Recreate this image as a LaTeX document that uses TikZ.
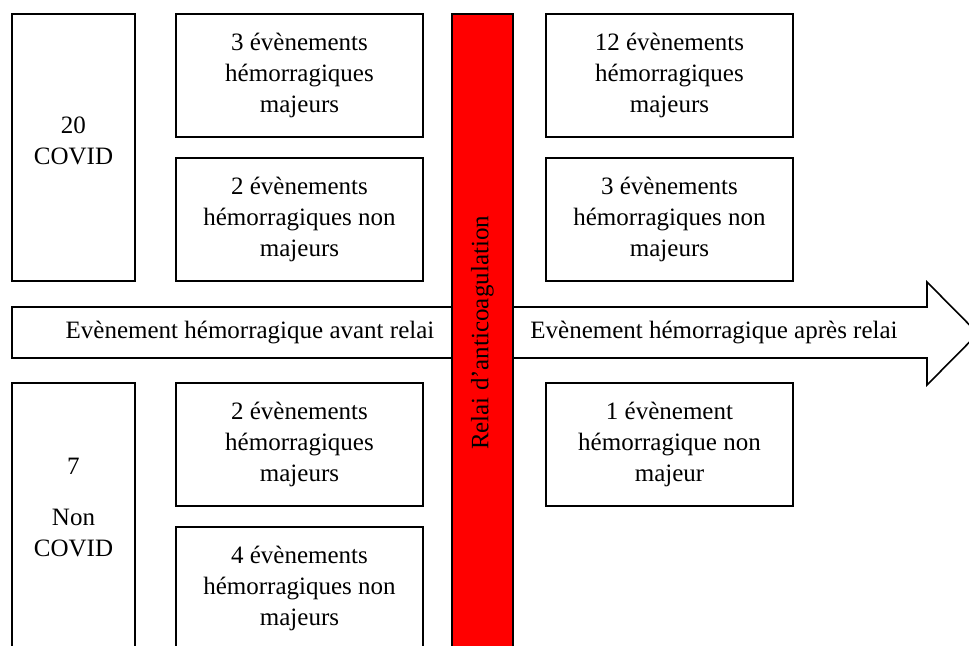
\documentclass[tikz,border=0pt]{standalone}
\usepackage{fontspec}
\setmainfont{Liberation Serif}

\begin{document}
\begin{tikzpicture}[x=0.5pt,y=-0.5pt,
    txt/.style={align=center,inner sep=0pt,font=\fontsize{12.5}{15.5}\selectfont},
    evt/.style={txt,draw,line width=0.8pt,minimum width=123.5pt,minimum height=61.5pt}]
    \useasboundingbox (0,0) rectangle (969,646);
    \clip (0,0) rectangle (969,646);

    \draw[line width=0.8pt] (12,307) -- (927,307) -- (927,282) -- (978,333.5)
        -- (927,385) -- (927,358) -- (12,358) -- cycle;
    \node[txt] (avant) at (250,333) {Evènement hémorragique avant relai};
    \node[txt] (apres) at (714,333) {Evènement hémorragique après relai};

    \draw[line width=0.9pt,fill=red] (452,14) rectangle (513,700);
    \node[txt,rotate=90] (relai) at (482.5,333) {Relai d’anticoagulation};

    \draw[line width=0.8pt] (12,14) rectangle (135,281);
    \node[txt] (covid) at (73.5,141) {20\\COVID};
    \draw[line width=0.8pt] (12,383) rectangle (135,700);
    \node[txt] (noncovid) at (73.5,508) {7\\[10pt]Non\\COVID};

    \node[evt] (avA) at (299.5,75.5) {3 évènements\\hémorragiques\\majeurs};
    \node[evt] (avB) at (299.5,219.5) {2 évènements\\hémorragiques non\\majeurs};
    \node[evt] (avC) at (299.5,444.5) {2 évènements\\hémorragiques\\majeurs};
    \node[evt] (avD) at (299.5,588.5) {4 évènements\\hémorragiques non\\majeurs};

    \node[evt] (apA) at (669.5,75.5) {12 évènements\\hémorragiques\\majeurs};
    \node[evt] (apB) at (669.5,219.5) {3 évènements\\hémorragiques non\\majeurs};
    \node[evt] (apC) at (669.5,444.5) {1 évènement\\hémorragique non\\majeur};
\end{tikzpicture}
\end{document}
